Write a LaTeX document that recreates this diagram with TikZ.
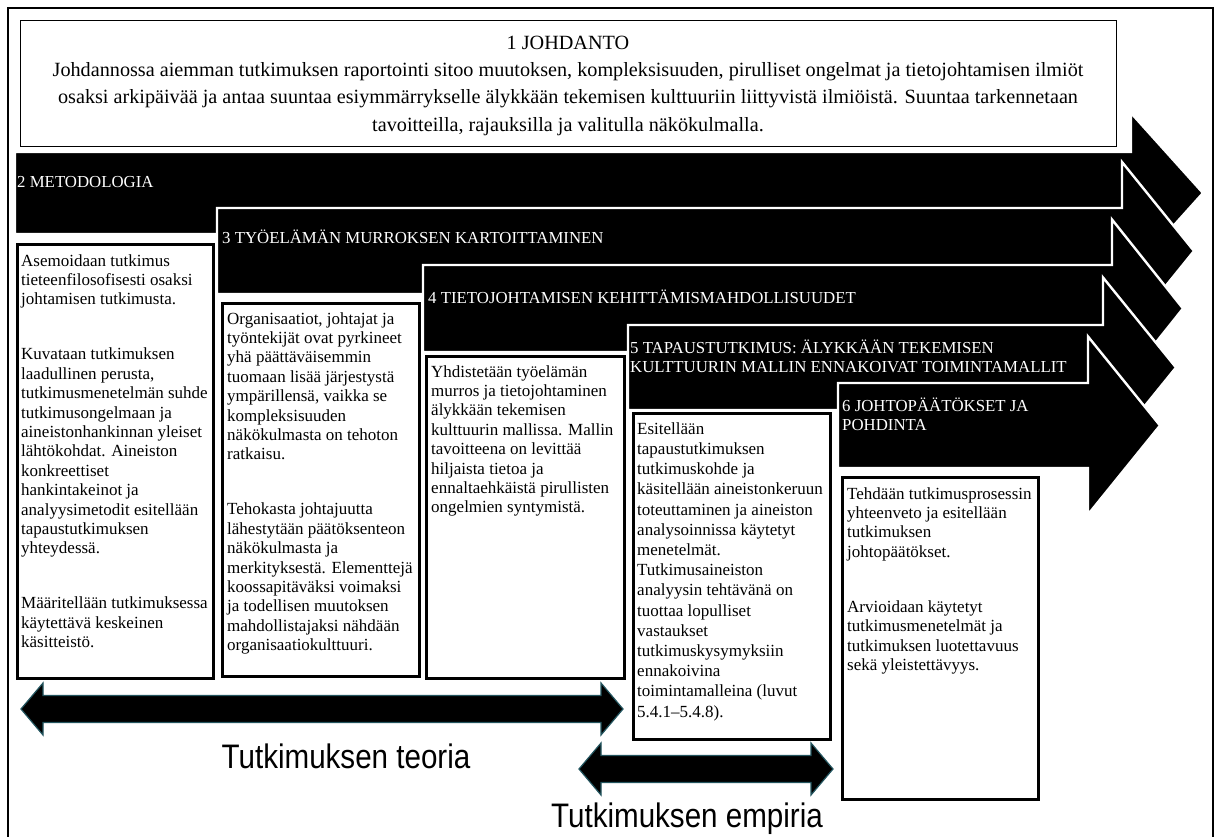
\documentclass[tikz,border=0pt]{standalone}
\usepackage{fontspec}
\setmainfont{Liberation Serif}
\newfontfamily\spansans[FakeStretch=0.87]{Liberation Sans}
\usetikzlibrary{calc}

% block arrow: left x, body top, body bottom, head base x, head half height, tip x
\newcommand\phaseshape[6]{%
  \path[phasearrow] (#1,#2) -- (#4,#2) -- (#4,{(#2+#3)/2-#5}) -- (#6,{(#2+#3)/2})
    -- (#4,{(#2+#3)/2+#5}) -- (#4,#3) -- (#1,#3) -- cycle;}

% two-headed span arrow: left tip x, right tip x, centre y, head length, head half, shaft half
\newcommand\spanshape[6]{%
  \path[spanarrow] (#1,#3) -- ({#1+#4},{#3-#5}) -- ({#1+#4},{#3-#6}) -- ({#2-#4},{#3-#6})
    -- ({#2-#4},{#3-#5}) -- (#2,#3) -- ({#2-#4},{#3+#5}) -- ({#2-#4},{#3+#6})
    -- ({#1+#4},{#3+#6}) -- ({#1+#4},{#3+#5}) -- cycle;}

\tikzset{
  phasearrow/.style={fill=black, draw=white, line width=2.4pt, line join=miter},
  phaselabel/.style={text=white, font=\fontsize{16.8}{18.5}\selectfont, inner sep=0pt,
    anchor=north west, align=left},
  panel/.style={draw=black, fill=white, line width=3pt, anchor=north west, inner sep=0pt},
  paneltext/.style={font=\fontsize{17}{19.4}\selectfont, inner sep=0pt, anchor=north west,
    align=left},
  spanarrow/.style={fill=black, draw={rgb,255:red,35;green,85;blue,95}, line width=1.2pt},
  spanlabel/.style={font=\spansans\fontsize{34}{36}\selectfont, inner sep=0pt, anchor=base},
}

\begin{document}
\begin{tikzpicture}[x=1pt, y=-1pt]
\useasboundingbox (0,0) rectangle (1221,836);
\fill[white] (0,0) rectangle (1221,836);

% outer frame (runs past the lower edge)
\draw[line width=2.4pt] (8,8) rectangle (1213,860);

% introduction
\node[draw=black, line width=1.2pt, fill=white, anchor=north west, inner sep=0pt,
      minimum width=1096pt, minimum height=126pt] (intro) at (20,20) {};
\node[font=\fontsize{20.2}{27.3}\selectfont, inner sep=0pt, anchor=north, align=center]
  (introtext) at (568,29.9)
  {\strut 1 JOHDANTO\\
   Johdannossa aiemman tutkimuksen raportointi sitoo muutoksen, kompleksisuuden, pirulliset ongelmat ja tietojohtamisen ilmiöt\\
   osaksi arkipäivää ja antaa suuntaa esiymmärrykselle älykkään tekemisen kulttuuriin liittyvistä ilmiöistä. Suuntaa tarkennetaan\\
   tavoitteilla, rajauksilla ja valitulla näkökulmalla.};

% chapter arrows, each laid over the previous one
\phaseshape{15}{152}{234}{1131}{80}{1203}
\node[phaselabel] (ch2) at (17,174.05) {\strut 2 METODOLOGIA};
\phaseshape{217}{208}{294}{1122}{89}{1194}
\node[phaselabel] (ch3) at (222,230.05) {\strut 3 TYÖELÄMÄN MURROKSEN KARTOITTAMINEN};
\phaseshape{423}{265}{352}{1112}{89}{1183}
\node[phaselabel] (ch4) at (428,290.05) {\strut 4 TIETOJOHTAMISEN KEHITTÄMISMAHDOLLISUUDET};
\phaseshape{628}{325}{410}{1103}{90}{1176}
\node[phaselabel] (ch5) at (630,340.05) {\strut 5 TAPAUSTUTKIMUS: ÄLYKKÄÄN TEKEMISEN\\KULTTUURIN MALLIN ENNAKOIVAT TOIMINTAMALLIT};
\phaseshape{838}{383}{468}{1088}{89}{1160}
\node[phaselabel] (ch6) at (842,398.05) {\strut 6 JOHTOPÄÄTÖKSET JA\\POHDINTA};

% chapter descriptions
\node[panel, minimum width=196pt, minimum height=434pt] (p2) at (16,243) {};
\node[paneltext] (t2) at ($(p2.north west)+(5,9.4)$)
  {\strut Asemoidaan tutkimus\\
   tieteenfilosofisesti osaksi\\
   johtamisen tutkimusta.\\[35.6pt]
   Kuvataan tutkimuksen\\
   laadullinen perusta,\\
   tutkimusmenetelmän suhde\\
   tutkimusongelmaan ja\\
   aineistonhankinnan yleiset\\
   lähtökohdat. Aineiston\\
   konkreettiset\\
   hankintakeinot ja\\
   analyysimetodit esitellään\\
   tapaustutkimuksen\\
   yhteydessä.\\[35.6pt]
   Määritellään tutkimuksessa\\
   käytettävä keskeinen\\
   käsitteistö.};

\node[panel, minimum width=197pt, minimum height=373pt] (p3) at (221,302) {};
\node[paneltext] (t3) at ($(p3.north west)+(6,8.4)$)
  {\strut Organisaatiot, johtajat ja\\
   työntekijät ovat pyrkineet\\
   yhä päättäväisemmin\\
   tuomaan lisää järjestystä\\
   ympärillensä, vaikka se\\
   kompleksisuuden\\
   näkökulmasta on tehoton\\
   ratkaisu.\\[35.6pt]
   Tehokasta johtajuutta\\
   lähestytään päätöksenteon\\
   näkökulmasta ja\\
   merkityksestä. Elementtejä\\
   koossapitäväksi voimaksi\\
   ja todellisen muutoksen\\
   mahdollistajaksi nähdään\\
   organisaatiokulttuuri.};

\node[panel, minimum width=198pt, minimum height=322pt] (p4) at (425,355) {};
\node[paneltext] (t4) at ($(p4.north west)+(6,8.4)$)
  {\strut Yhdistetään työelämän\\
   murros ja tietojohtaminen\\
   älykkään tekemisen\\
   kulttuurin mallissa. Mallin\\
   tavoitteena on levittää\\
   hiljaista tietoa ja\\
   ennaltaehkäistä pirullisten\\
   ongelmien syntymistä.};

\node[panel, minimum width=197pt, minimum height=326pt] (p5) at (632,412) {};
\node[paneltext, font=\fontsize{17}{20.2}\selectfont] (t5) at ($(p5.north west)+(5,7.9)$)
  {\strut Esitellään\\
   tapaustutkimuksen\\
   tutkimuskohde ja\\
   käsitellään aineistonkeruun\\
   toteuttaminen ja aineiston\\
   analysoinnissa käytetyt\\
   menetelmät.\\
   Tutkimusaineiston\\
   analyysin tehtävänä on\\
   tuottaa lopulliset\\
   vastaukset\\
   tutkimuskysymyksiin\\
   ennakoivina\\
   toimintamalleina (luvut\\
   5.4.1–5.4.8).};

\node[panel, minimum width=196pt, minimum height=322pt] (p6) at (841,476) {};
\node[paneltext] (t6) at ($(p6.north west)+(6,9.4)$)
  {\strut Tehdään tutkimusprosessin\\
   yhteenveto ja esitellään\\
   tutkimuksen\\
   johtopäätökset.\\[35.6pt]
   Arvioidaan käytetyt\\
   tutkimusmenetelmät ja\\
   tutkimuksen luotettavuus\\
   sekä yleistettävyys.};

% spans of theory and empirical parts
\spanshape{21}{623}{709}{22}{26}{13.5}
\node[spanlabel] (teoria) at (346,768) {Tutkimuksen teoria};
\spanshape{579}{833}{769}{22}{26}{13.5}
\node[spanlabel] (empiria) at (687,827) {Tutkimuksen empiria};
\end{tikzpicture}
\end{document}
